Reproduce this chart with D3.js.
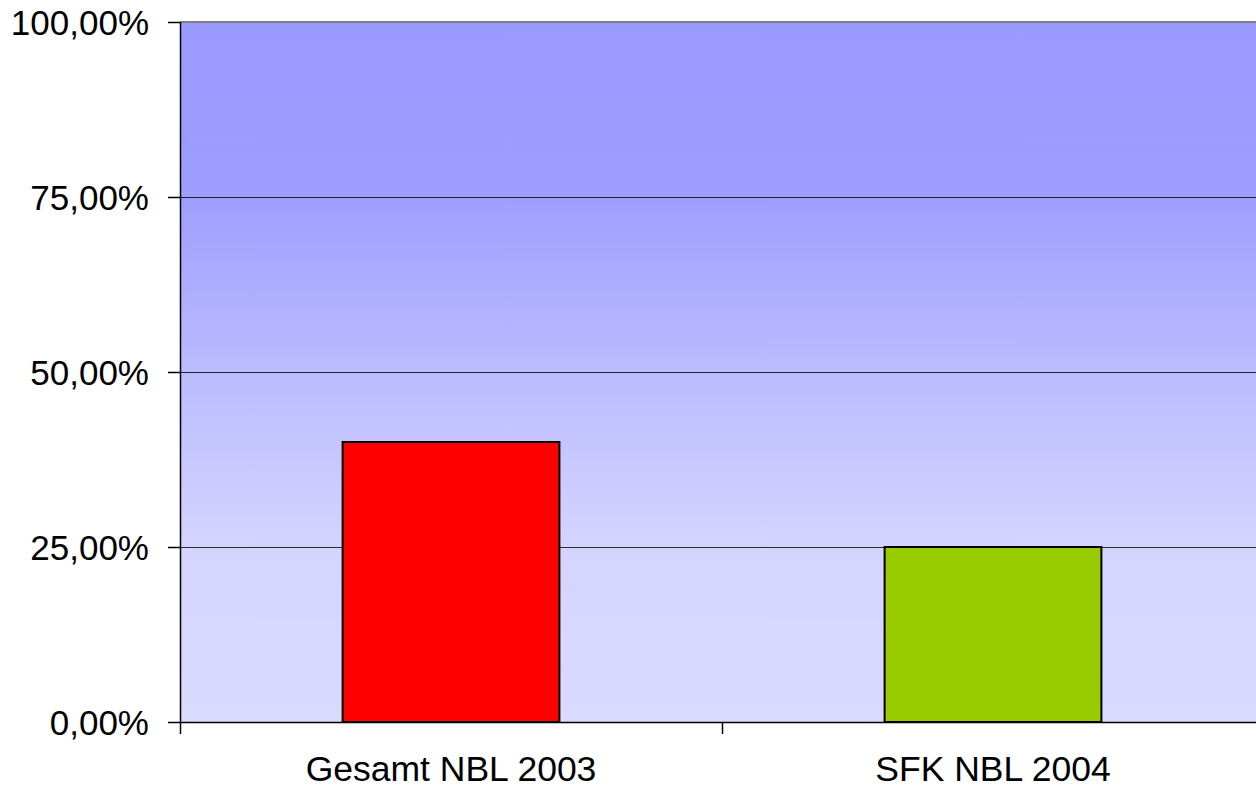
<!DOCTYPE html>
<html>
<head>
<meta charset="utf-8">
<script src="https://cdn.jsdelivr.net/npm/d3@7"></script>
<style>
  body { margin: 0; background: #fff; }
  text { font-family: "Liberation Sans", Arial, sans-serif; }
</style>
</head>
<body>
<script>
var width = 1256,
    height = 790;

var categories = ["Gesamt NBL 2003", "SFK NBL 2004"];
var values = [0.40, 0.25];
var colors = ["#ff0000", "#99cc00"];
var yTicks = [0, 0.25, 0.5, 0.75, 1];

var margin = {top: 22, left: 180, bottom: 68};
var plotRight = 1264; // plot area runs past the right edge of the picture

var x = d3.scaleBand()
    .domain(categories)
    .range([margin.left, plotRight])
    .paddingInner(0)
    .paddingOuter(0);

var y = d3.scaleLinear()
    .domain([0, 1])
    .range([height - margin.bottom, margin.top]);

var fmt = function(d) { return d3.format(".2f")(d * 100).replace(".", ",") + "%"; };

var svg = d3.select("body").append("svg")
    .attr("width", width)
    .attr("height", height);

var grad = svg.append("defs").append("linearGradient")
    .attr("id", "bg")
    .attr("x1", 0).attr("y1", 0)
    .attr("x2", 0).attr("y2", 1);

grad.selectAll("stop")
    .data([[0, "#9999ff"], [0.25, "#9e9eff"], [0.5, "#bbbbff"], [0.75, "#d4d4ff"], [1, "#dadaff"]])
    .enter().append("stop")
    .attr("offset", function(d) { return d[0]; })
    .attr("stop-color", function(d) { return d[1]; });

svg.append("rect")
    .attr("x", margin.left)
    .attr("y", y(1))
    .attr("width", plotRight - margin.left)
    .attr("height", y(0) - y(1))
    .attr("fill", "url(#bg)");

// gridlines
svg.selectAll("line.grid")
    .data(yTicks.filter(function(d) { return d > 0 && d < 1; }))
    .enter().append("line")
    .attr("class", "grid")
    .attr("x1", margin.left)
    .attr("x2", plotRight)
    .attr("y1", function(d) { return Math.round(y(d)) + 0.5; })
    .attr("y2", function(d) { return Math.round(y(d)) + 0.5; })
    .attr("stroke", "#000")
    .attr("stroke-opacity", 0.8);

// top border
svg.append("line")
    .attr("x1", margin.left)
    .attr("x2", plotRight)
    .attr("y1", y(1))
    .attr("y2", y(1))
    .attr("stroke", "#808080")
    .attr("stroke-width", 2);

// bars
var barW = x.bandwidth() / 2.5;
svg.selectAll("rect.bar")
    .data(values)
    .enter().append("rect")
    .attr("class", "bar")
    .attr("x", function(d, i) { return x(categories[i]) + (x.bandwidth() - barW) / 2; })
    .attr("y", function(d) { return y(d); })
    .attr("width", barW)
    .attr("height", function(d) { return y(0) - y(d); })
    .attr("fill", function(d, i) { return colors[i]; })
    .attr("stroke", "#000")
    .attr("stroke-width", 2);

// y axis
var yAxis = svg.append("g")
    .attr("transform", "translate(" + margin.left + ",0)")
    .call(d3.axisLeft(y).tickValues(yTicks).tickFormat(fmt).tickSize(12).tickPadding(19));
yAxis.select(".domain").attr("stroke", "#000").attr("stroke-width", 1.5).attr("d", "M0.5," + y(1) + "V" + y(0));
yAxis.selectAll(".tick line").attr("stroke", "#000").attr("stroke-width", 1.5);
yAxis.selectAll("text")
    .attr("font-size", 35)
    .attr("fill", "#000")
    .attr("dy", "0.35em")
    .style("font-family", "'Liberation Sans', Arial, sans-serif");

// x axis
var xAxis = svg.append("g")
    .attr("transform", "translate(0," + y(0) + ")")
    .call(d3.axisBottom(x).tickSize(0).tickPadding(34));
xAxis.select(".domain").attr("stroke", "#000").attr("stroke-width", 1.5).attr("d", "M" + margin.left + ",0.5H" + plotRight);
xAxis.selectAll("text")
    .attr("font-size", 35.5)
    .attr("fill", "#000")
    .style("font-family", "'Liberation Sans', Arial, sans-serif");

// category separators on the x axis
svg.selectAll("line.xtick")
    .data(x.domain().concat(["end"]))
    .enter().append("line")
    .attr("class", "xtick")
    .attr("x1", function(d) { return d === "end" ? plotRight : x(d) + 0.5; })
    .attr("x2", function(d) { return d === "end" ? plotRight : x(d) + 0.5; })
    .attr("y1", y(0))
    .attr("y2", y(0) + 12)
    .attr("stroke", "#000")
    .attr("stroke-width", 1.5);
</script>
</body>
</html>
